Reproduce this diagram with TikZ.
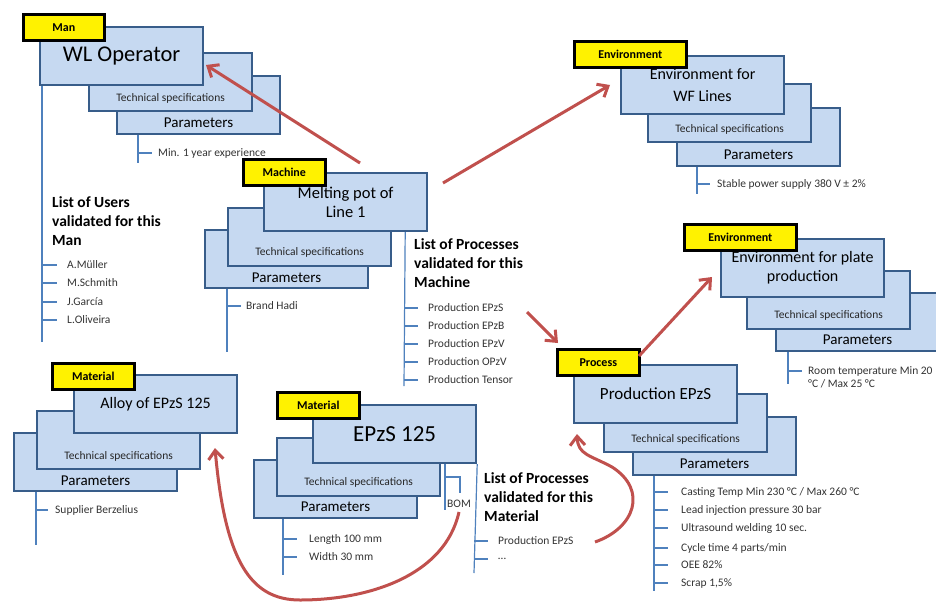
\documentclass[tikz,border=0pt]{standalone}
\usepackage{fontspec}
\setmainfont{Carlito}
\usetikzlibrary{arrows.meta}
\definecolor{boxfill}{RGB}{198,217,241}
\definecolor{boxline}{RGB}{56,93,138}
\definecolor{treeline}{RGB}{79,129,189}
\definecolor{linkred}{RGB}{192,80,77}
\tikzset{
  card/.style={draw=boxline, fill=boxfill, line width=2.2pt, minimum width=163pt,
    minimum height=58pt, anchor=north west, inner sep=0pt, align=center},
  tag/.style={draw=black, fill=yellow, line width=2.6pt, minimum height=26pt,
    anchor=north west, inner sep=0pt, font=\bfseries\fontsize{12}{14}\selectfont},
  spec/.style={inner sep=0pt, text=black!85, font=\fontsize{11.5}{14}\selectfont},
  param/.style={inner sep=0pt, font=\fontsize{15}{18}\selectfont},
  tree/.style={draw=treeline, line width=1.2pt},
  item/.style={anchor=west, inner sep=0pt, text=black!80, font=\fontsize{11.5}{13}\selectfont},
  head/.style={anchor=west, inner sep=0pt, align=left, font=\bfseries\fontsize{15.5}{18.7}\selectfont},
  link/.style={draw=linkred, line width=3pt, -{Straight Barb[length=9pt,width=15pt]}},
}
\begin{document}
\begin{tikzpicture}[x=1pt, y=-1pt]
\clip (0,0) rectangle (936,602);

% ---------- Man ----------
\node[card] (wlP) at (116,75) {};
\node[card] (wlT) at (88,52) {};
\node[card, font=\fontsize{22.5}{27}\selectfont] (wl) at (39,26) {WL Operator};
\node[tag, minimum width=81pt] (manTag) at (22,13) {Man};
\node[spec] (wlTt) at ([yshift=-46pt]wlT.north) {Technical specifications};
\node[param] (wlPt) at ([yshift=-48pt]wlP.north) {Parameters};
\draw[tree] ([xshift=22pt]wlP.south west) -- (138,163);
\draw[tree] (138,153) -- (152,153);
\node[item] (wlExp) at (158,153) {Min. 1 year experience};
\draw[tree] ([xshift=3pt]wl.south west) -- (42,342);
\node[head] (usersHead) at (52,221) {List of Users\\validated for this\\Man};
\foreach \y/\t [count=\i] in {265/{A.Müller}, 283/{M.Schmith}, 302/{J.García}, 320/{L.Oliveira}} {
  \draw[tree] (42,\y) -- (57,\y);
  \node[item] (user\i) at (67,\y) {\t};
}

% ---------- Machine ----------
\node[card] (mpP) at (204,229) {};
\node[card] (mpT) at (227,207) {};
\node[card, font=\fontsize{16.5}{19}\selectfont] (mp) at (263,172) {Melting pot of\\Line 1};
\node[tag, minimum width=82pt] (machTag) at (242,158) {Machine};
\node[spec] (mpTt) at ([yshift=-45pt]mpT.north) {Technical specifications};
\node[param] (mpPt) at ([yshift=-49pt]mpP.north) {Parameters};
\draw[tree] ([xshift=23pt]mpP.south west) -- (227,352);
\draw[tree] (227,306) -- (241,306);
\node[item] (brand) at (246,306) {Brand Hadi};
\draw[tree] ([xshift=-23pt]mp.south east) -- (404,386);
\node[head] (machHead) at (414,263) {List of Processes\\validated for this\\Machine};
\foreach \y/\t [count=\i] in {308/{Production EPzS}, 326/{Production EPzB}, 344/{Production EPzV}, 362/{Production OPzV}, 380/{Production Tensor}} {
  \draw[tree] (404,\y) -- (418,\y);
  \node[item] (proc\i) at (428,\y) {\t};
}

% ---------- Environment for WF Lines ----------
\node[card] (ewP) at (676,107) {};
\node[card] (ewT) at (647,83) {};
\node[card, font=\fontsize{16}{22}\selectfont] (ew) at (620,55) {Environment for\\WF Lines};
\node[tag, minimum width=112pt] (envTagA) at (573,40) {Environment};
\node[spec] (ewTt) at ([yshift=-46pt]ewT.north) {Technical specifications};
\node[param] (ewPt) at ([yshift=-48pt]ewP.north) {Parameters};
\draw[tree] ([xshift=21pt]ewP.south west) -- (697,194);
\draw[tree] (697,184) -- (710,184);
\node[item] (power) at (717,184) {Stable power supply 380 V ± 2\%};

% ---------- Environment for plate production ----------
\node[card] (epP) at (775,292) {};
\node[card] (epT) at (746,270) {};
\node[card, font=\fontsize{16}{19}\selectfont] (ep) at (720,238) {Environment for plate\\production};
\node[tag, minimum width=112pt] (envTagB) at (683,223) {Environment};
\node[spec] (epTt) at ([yshift=-45pt]epT.north) {Technical specifications};
\node[param] (epPt) at ([yshift=-48pt]epP.north) {Parameters};
\draw[tree] ([xshift=13pt]epP.south west) -- (788,384);
\draw[tree] (788,371) -- (802,371);
\node[item, align=left] (roomT) at (808,377.5) {Room temperature Min 20\\°C / Max 25 °C};

% ---------- Process ----------
\node[card] (prP) at (632,416) {};
\node[card] (prT) at (603,393) {};
\node[card, font=\fontsize{17}{20}\selectfont] (pr) at (573,364) {Production EPzS};
\node[tag, minimum width=82pt] (procTag) at (556,348) {Process};
\node[spec] (prTt) at ([yshift=-46pt]prT.north) {Technical specifications};
\node[param] (prPt) at ([yshift=-48pt]prP.north) {Parameters};
\draw[tree] ([xshift=22pt]prP.south west) -- (654,591);
\foreach \y/\t [count=\i] in {492/{Casting Temp Min 230 °C / Max 260 °C}, 510/{Lead injection pressure 30 bar}, 528/{Ultrasound welding 10 sec.}, 548/{Cycle time 4 parts/min}, 565/{OEE 82\%}, 583/{Scrap 1,5\%}} {
  \draw[tree] (654,\y) -- (668,\y);
  \node[item] (pp\i) at (681,\y) {\t};
}

% ---------- Material: alloy ----------
\node[card] (alP) at (13,432) {};
\node[card] (alT) at (36,410) {};
\node[card, font=\fontsize{16}{19}\selectfont] (al) at (73,374) {Alloy of EPzS 125};
\node[tag, minimum width=82pt] (matTagA) at (51,362) {Material};
\node[spec] (alTt) at ([yshift=-46pt]alT.north) {Technical specifications};
\node[param] (alPt) at ([yshift=-49pt]alP.north) {Parameters};
\draw[tree] ([xshift=23pt]alP.south west) -- (36,545);
\draw[tree] (36,510) -- (48,510);
\node[item] (supplier) at (55,510) {Supplier Berzelius};

% ---------- Material: EPzS 125 ----------
\node[card] (ezP) at (253,459) {};
\node[card] (ezT) at (276,437) {};
\node[card, font=\fontsize{23}{27}\selectfont] (ez) at (312,404) {EPzS 125};
\node[tag, minimum width=82pt] (matTagB) at (276,391) {Material};
\node[spec] (ezTt) at ([yshift=-45pt]ezT.north) {Technical specifications};
\node[param] (ezPt) at ([yshift=-48pt]ezP.north) {Parameters};
\draw[tree] ([xshift=30pt]ezP.south west) -- (283,575);
\foreach \y/\t [count=\i] in {539/{Length 100 mm}, 557/{Width 30 mm}} {
  \draw[tree] (283,\y) -- (297,\y);
  \node[item] (dim\i) at (309,\y) {\t};
}
\draw[tree] ([xshift=133pt]ez.south west) -- (445,510);
\draw[tree] (445,477) -- (460,477) -- (460,493);
\node[item, anchor=center] (bom) at (459,504) {BOM};
\draw[tree] (ez.south east) -- (474,573);
\node[head] (matHead) at (484,497) {List of Processes\\validated for this\\Material};
\foreach \y/\t [count=\i] in {541/{Production EPzS}, 559/{…}} {
  \draw[tree] (474,\y) -- (488,\y);
  \node[item] (mproc\i) at (498,\y) {\t};
}

% ---------- relations ----------
\coordinate (mpToWl) at (360,163);
\coordinate (wlTip) at (206,65);
\coordinate (mpToEw) at (443,183);
\coordinate (ewTip) at (610,85);
\coordinate (listToPr) at (527,312);
\coordinate (prTipA) at (558,343);
\coordinate (prToEp) at (639,356);
\coordinate (epTip) at (712,277);
\coordinate (alTip) at (215,448);
\coordinate (prTipB) at (577,434);

\draw[link] (mpToWl) -- (wlTip);
\draw[link] (mpToEw) -- (ewTip);
\draw[link] (listToPr) -- (prTipA);
\draw[link] (prToEp) -- (epTip);
\draw[link] ([yshift=-4pt]bom.south) .. controls (445,575) and (370,600) .. (300,600)
  .. controls (250,600) and (225,560) .. (alTip);
\draw[link] (595,542) .. controls (635,528) and (648,490) .. (612,467)
  .. controls (590,455) and (578,455) .. (prTipB);
\end{tikzpicture}
\end{document}
